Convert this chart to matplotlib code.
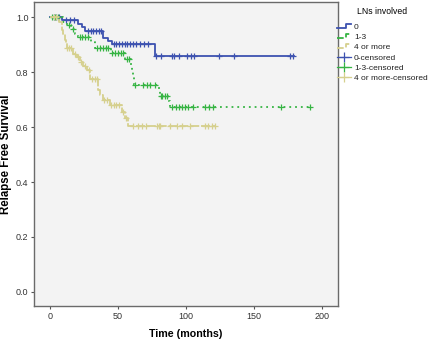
import numpy as np
import matplotlib
matplotlib.use("Agg")
import matplotlib.pyplot as plt
from matplotlib.lines import Line2D
from matplotlib.legend_handler import HandlerBase

plt.rcParams['font.family'] = ['Liberation Sans', 'DejaVu Sans']

# Kaplan-Meier step estimates (event times in months, survival after the step)
t_0 = [0, 9, 21, 23.5, 26, 39.5, 42.5, 45.5, 77, 179]
s_0 = [1.0, 0.99, 0.977, 0.965, 0.95, 0.925, 0.913, 0.903, 0.86, 0.86]
cens_0 = [3, 5, 7, 12, 15, 18, 28, 30, 32, 34, 36, 38, 47, 49, 51, 53, 55, 57,
          59, 61, 63, 66, 69, 72, 78, 82, 89.5, 91, 95, 101, 103.5, 106, 124,
          135, 176.5, 178.5]

t_13 = [0, 10, 12.5, 15.5, 18.5, 20.5, 30.5, 33.5, 45, 55.5, 59.5, 60.3, 61,
        62, 80, 81, 87, 88, 191]
s_13 = [1.0, 0.985, 0.971, 0.956, 0.94, 0.93, 0.912, 0.89, 0.869, 0.848,
        0.826, 0.805, 0.783, 0.755, 0.735, 0.715, 0.695, 0.672, 0.672]
cens_13 = [2, 4, 6, 14, 17, 22, 24, 26, 28, 35, 37, 39, 41, 43, 46, 48, 50, 52,
           54, 56.5, 58, 62.6, 68.7, 71.2, 73.7, 77.3, 81.5, 82.5, 84.6, 86,
           89.6, 92.7, 95.1, 97, 99.3, 101.8, 105, 114, 117.2, 119.7, 169.6, 191]

t_4 = [0, 7, 8.8, 9.5, 11.2, 12, 12.5, 17.3, 19.8, 22.2, 24.7, 27.6, 29.6,
       35.7, 37, 39.4, 44, 52.9, 55.3, 57.7, 121.4]
s_4 = [1.0, 0.984, 0.953, 0.94, 0.917, 0.905, 0.887, 0.868, 0.854, 0.838,
       0.823, 0.807, 0.774, 0.735, 0.717, 0.698, 0.68, 0.656, 0.632, 0.604, 0.604]
cens_4 = [3, 5, 13, 14, 15.5, 18.5, 21, 23, 26, 28.5, 31, 33, 35, 40, 42, 45,
          47, 49, 51, 54, 56, 61.4, 65, 67.5, 71, 78.6, 80, 81, 88.4, 93.3,
          96.9, 103, 114, 116.5, 119, 121.4]

groups = ['0', '1-3', '4 or more']
colors = ['#3d52b0', '#36b443', '#d6d08e']
styles = ['-', (0, (1, 2.2)), (0, (5, 1))]
series = [(t_0, s_0, cens_0), (t_13, s_13, cens_13), (t_4, s_4, cens_4)]


def level_at(times, surv, when):
    idx = np.searchsorted(times, when, side='right') - 1
    return np.asarray(surv)[idx]


class StepHandler(HandlerBase):
    # little step glyph for the curve entries
    def create_artists(self, legend, orig, xd, yd, width, height, fontsize, trans):
        x = [v - xd for v in [0, width * 0.65, width * 0.65, width]]
        y = [-yd + height * 0.15] * 2 + [-yd + height * 0.85] * 2
        ln = Line2D(x, y, color=orig.get_color(), linestyle=orig.get_linestyle(),
                    linewidth=orig.get_linewidth())
        ln.set_transform(trans)
        return [ln]


fig = plt.figure(figsize=(4.3, 3.41), dpi=100)
ax = fig.add_axes([0.079, 0.1026, 0.707, 0.8914])
ax.set_facecolor('#f3f3f3')

curve_handles = []
cens_handles = []
for name, col, ls, (t, s, c) in zip(groups, colors, styles, series):
    ln, = ax.step(t, s, where='post', color=col, linestyle=ls, linewidth=1.3,
                  label=name)
    curve_handles.append(ln)
    ax.plot(c, level_at(t, s, c), linestyle='none', marker='+', markersize=5,
            markeredgewidth=0.9, color=col)
    cens_handles.append(Line2D([], [], color=col, marker='+', markersize=7,
                               markeredgewidth=0.9, linewidth=0.9,
                               label=name + '-censored'))

ax.set_xlim(-11.5, 211.5)
ax.set_ylim(-0.052, 1.056)
ax.set_xticks([0, 50, 100, 150, 200])
ax.set_yticks([0.0, 0.2, 0.4, 0.6, 0.8, 1.0])
ax.set_yticklabels(['0.0', '0.2', '0.4', '0.6', '0.8', '1.0'])
ax.tick_params(labelsize=6.5, length=2.5, width=0.8, color='#555555',
               labelcolor='#333333', pad=1.5)
for sp in ax.spines.values():
    sp.set_color('#6a6a6a')
    sp.set_linewidth(1.0)

ax.set_xlabel('Time (months)', fontsize=7.7, fontweight='bold', labelpad=6)
ax.set_ylabel('Relapse Free Survival', fontsize=8.3, fontweight='bold')
ax.yaxis.set_label_coords(-0.072, 0.5)

handles = curve_handles + cens_handles
labels = [h.get_label() for h in handles]
hmap = {h: StepHandler() for h in curve_handles}
leg = ax.legend(handles, labels, handler_map=hmap, loc='upper left',
                bbox_to_anchor=(0.99, 0.99), frameon=False, fontsize=6,
                title='LNs involved', title_fontsize=6.2, handlelength=1.7,
                handletextpad=0.4, labelspacing=0.3, borderaxespad=0,
                borderpad=0.2)
leg._legend_box.sep = 5
for txt in leg.get_texts():
    txt.set_color('#222222')

fig.savefig('out.png', dpi=100)
